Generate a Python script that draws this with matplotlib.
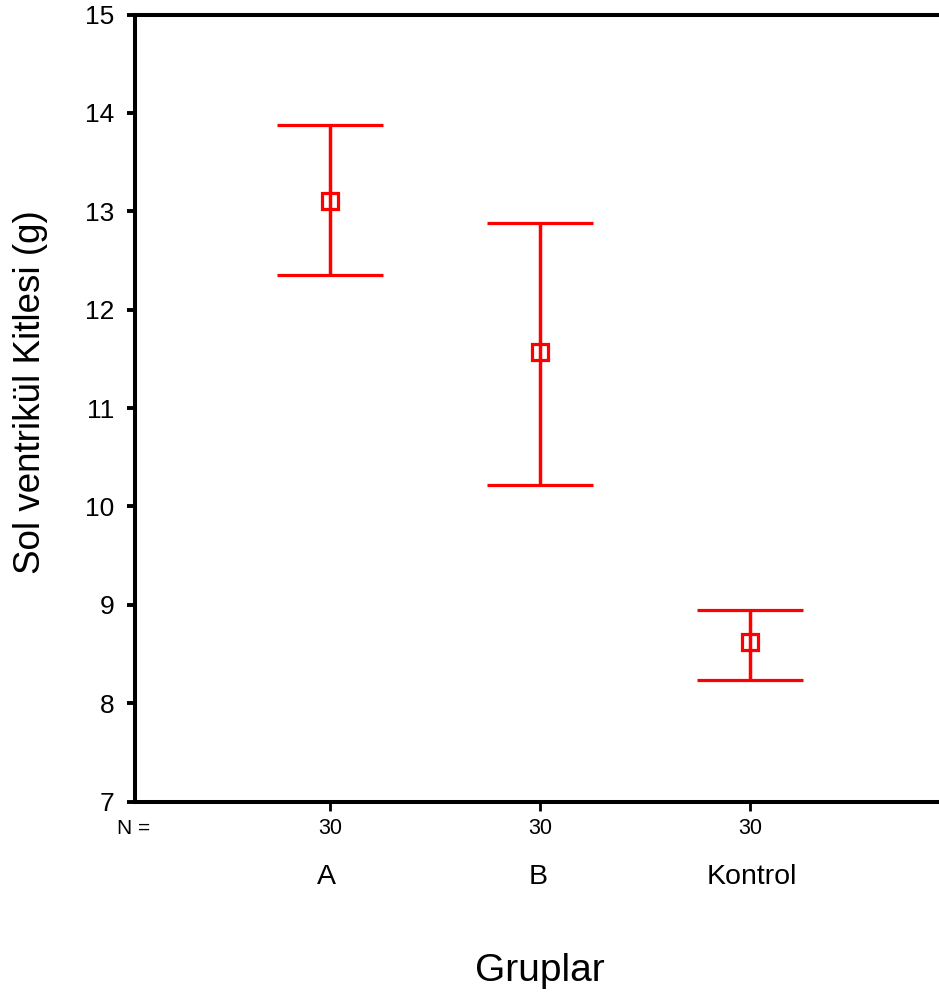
import matplotlib
matplotlib.use("Agg")
import matplotlib.pyplot as plt
import numpy as np

plt.rcParams['font.family'] = ['Liberation Sans', 'DejaVu Sans']

# data
groups = ['A', 'B', 'Kontrol']
n_counts = [30, 30, 30]
means = [13.10, 11.57, 8.62]
lower = [12.35, 10.22, 8.24]
upper = [13.88, 12.88, 8.95]

W, H = 939, 998
fig = plt.figure(figsize=(W / 100, H / 100), dpi=100)
ax = fig.add_axes([135 / W, 1 - 801.5 / H, 810 / W, 787 / H])

x = np.arange(1, len(groups) + 1)
m = np.array(means)
yerr = [m - np.array(lower), np.array(upper) - m]
ax.errorbar(x, m, yerr=yerr, fmt='s', color='#ff0000', ecolor='#ff0000',
            elinewidth=2.5, capsize=38, capthick=2.6, markersize=11,
            markerfacecolor='none', markeredgewidth=2.3)

ax.set_xlim(1 - 195 / 210, 3 + 195 / 210)
ax.set_ylim(7, 15)
ax.set_yticks(range(7, 16))
ax.tick_params(axis='y', labelsize=19, width=2.8, length=6, pad=9, direction='out')
ax.set_xticks(x)
ax.set_xticklabels([])
ax.tick_params(axis='x', width=2, length=6.5, direction='out')

for side in ['left', 'top', 'bottom']:
    ax.spines[side].set_linewidth(2.9)
ax.spines['right'].set_visible(False)

# N row and group names under the axis
label_shift = [-4, -2, 2]
for xi, n, g, dx in zip(x, n_counts, groups, label_shift):
    px = ax.transData.transform((xi, 7))[0] / fig.bbox.width
    fig.text(px, 1 - 834 / H, str(n), ha='center', va='baseline', fontsize=15.5)
    fig.text(px + dx / W, 1 - 884 / H, g, ha='center', va='baseline', fontsize=20.5)
fig.text(117 / W, 1 - 834 / H, 'N =', ha='left', va='baseline', fontsize=15)

fig.text(540 / W, 1 - 981 / H, 'Gruplar', ha='center', va='baseline', fontsize=28)
fig.text(31 / W, 1 - 392 / H, 'Sol ventrikül Kitlesi (g)', rotation=90,
         ha='center', va='center', fontsize=26.5)

fig.savefig('out.png', dpi=100)
